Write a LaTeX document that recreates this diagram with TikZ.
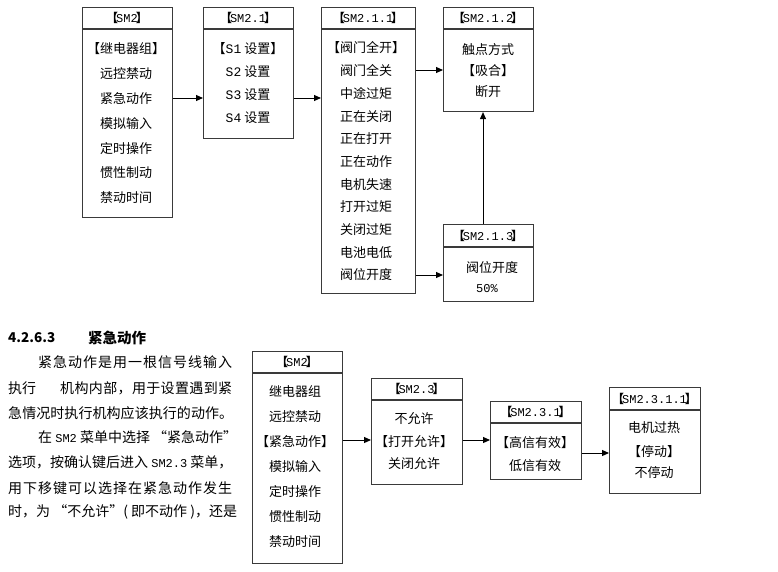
\documentclass[tikz,border=0pt]{standalone}
\usepackage{fontspec}
\setmainfont{Noto Sans CJK SC}
\newfontfamily\monofnt{Liberation Mono}
\usetikzlibrary{arrows.meta}
\definecolor{boxgray}{HTML}{3A3A3A}
\makeatletter
\def\jstend{jstend}
\def\jst#1{\jst@a#1\jstend}
\def\jst@a#1{\ifx#1\jstend\else#1\expandafter\jst@b\fi}
\def\jst@b#1{\ifx#1\jstend\else\hfill#1\expandafter\jst@b\fi}
\makeatother
\newcommand\jline[2]{\hbox to #1{\jst{#2}}}
\newcommand\hb[1]{{\fontsize{12}{14}\selectfont\bfseries #1}}
\tikzset{
  menubox/.style={draw=boxgray, line width=1.1pt, anchor=north west, inner sep=0pt},
  sepline/.style={draw=boxgray, line width=1.1pt},
  hdr/.style={font=\fontsize{12}{14}\selectfont, inner sep=0pt},
  itm/.style={font=\fontsize{13}{15}\selectfont, inner sep=0pt},
  para/.style={font=\fontsize{14}{16}\selectfont, inner sep=0pt, anchor=west},
  arr/.style={draw=black, line width=1pt, -{Triangle[length=7pt,width=6pt]}},
}
\newcommand\menubx[7]{%
  \node[menubox, minimum width={(#4-#2)*1pt}, minimum height={(#6-#3)*1pt}] (#1) at (#2,#3) {};
  \draw[sepline] (#2,#5) -- (#4,#5);
  \node[hdr] (#1h) at ({(#2+#4)/2},{(#3+#5)/2}) {\hb{【}\kern-2pt{\monofnt #7}\kern-2pt\hb{】}};
}
\begin{document}
\begin{tikzpicture}[x=1pt,y=-1pt]
\useasboundingbox[fill=white] (0,0) rectangle (778,571);

% ---------- top diagram ----------
\menubx{sma}{82}{7}{172}{29}{217}{SM2}
\foreach \t [count=\i] in {【继电器组】,远控禁动,紧急动作,模拟输入,定时操作,惯性制动,禁动时间}
  \node[itm] (smai\i) at (126,{49+24.8*(\i-1)}) {\t};

\menubx{smb}{203}{7}{293}{29}{138}{SM2.1}
\node[itm] (smbi1) at (248,49) {【{\monofnt S1} 设置】};
\node[itm] (smbi2) at (248,72) {{\monofnt S2} 设置};
\node[itm] (smbi3) at (248,95) {{\monofnt S3} 设置};
\node[itm] (smbi4) at (248,118) {{\monofnt S4} 设置};

\menubx{smc}{321}{7}{415}{29}{293}{SM2.1.1}
\foreach \t [count=\i] in {【阀门全开】,阀门全关,中途过矩,正在关闭,正在打开,正在动作,电机失速,打开过矩,关闭过矩,电池电低,阀位开度}
  \node[itm] (smci\i) at (366,{48+22.7*(\i-1)}) {\t};

\menubx{smd}{443}{7}{533}{29}{111}{SM2.1.2}
\node[itm] (smdi1) at (488,50) {触点方式};
\node[itm] (smdi2) at (488,71) {【吸合】};
\node[itm] (smdi3) at (488,92) {断开};

\menubx{sme}{443}{224}{533}{247}{301}{SM2.1.3}
\node[itm] (smei1) at (492,268) {阀位开度};
\node[itm] (smei2) at (487,289) {{\monofnt\fontsize{12}{14}\selectfont 50\%}};

\draw[arr] (sma.east |- 0,98) -- (smb.west |- 0,98);
\draw[arr] (smb.east |- 0,98) -- (smc.west |- 0,98);
\draw[arr] (smc.east |- 0,70) -- (smd.west |- 0,70);
\draw[arr] (smc.east |- 0,275) -- (sme.west |- 0,275);
\draw[arr] (sme.north -| 483,0) -- (smd.south -| 483,0);

% ---------- text at left ----------
\node[para, font=\fontsize{13.5}{16}\selectfont\bfseries] (hd1) at (8,338) {4.2.6.3};
\node[para, font=\fontsize{14.5}{16}\selectfont\bfseries] (hd2) at (88,338) {紧急动作};
\node[para] (p1) at (38,362) {\jline{194pt}{紧急动作是用一根信号线输入}};
\node[para] (p2a) at (8,388) {执行};
\node[para] (p2b) at (60,388) {\jline{172pt}{机构内部，用于设置遇到紧}};
\node[para] (p3) at (8,413) {\jline{225pt}{急情况时执行机构应该执行的动作。}};
\node[para] (p4) at (38,437) {在 {\monofnt\fontsize{12}{14}\selectfont SM2} 菜单中选择 “紧急动作”};
\node[para] (p5) at (8,462) {选项，按确认键后进入 {\monofnt\fontsize{12}{14}\selectfont SM2.3} 菜单，};
\node[para] (p6) at (8,488) {\jline{224pt}{用下移键可以选择在紧急动作发生}};
\node[para] (p7) at (8,512) {时，为 “不允许”( 即不动作 )，还是};

% ---------- bottom diagram ----------
\menubx{smf}{252}{351}{342}{373}{563}{SM2}
\foreach \t [count=\i] in {继电器组,远控禁动,【紧急动作】,模拟输入,定时操作,惯性制动,禁动时间}
  \node[itm] (smfi\i) at (295,{392+25*(\i-1)}) {\t};

\menubx{smg}{371}{378}{462}{400}{484}{SM2.3}
\node[itm] (smgi1) at (414,419) {不允许};
\node[itm] (smgi2) at (414,442) {【打开允许】};
\node[itm] (smgi3) at (414,464) {关闭允许};

\menubx{smh}{490}{401}{581}{423}{479}{SM2.3.1}
\node[itm] (smhi1) at (535,443) {【高信有效】};
\node[itm] (smhi2) at (535,466) {低信有效};

\menubx{smk}{609}{387}{700}{410}{493}{SM2.3.1.1}
\node[itm] (smki1) at (654,428) {电机过热};
\node[itm] (smki2) at (654,452) {【停动】};
\node[itm] (smki3) at (654,473) {不停动};

\draw[arr] (smf.east |- 0,440) -- (smg.west |- 0,440);
\draw[arr] (smg.east |- 0,440) -- (smh.west |- 0,440);
\draw[arr] (smh.east |- 0,453) -- (smk.west |- 0,453);
\end{tikzpicture}
\end{document}
